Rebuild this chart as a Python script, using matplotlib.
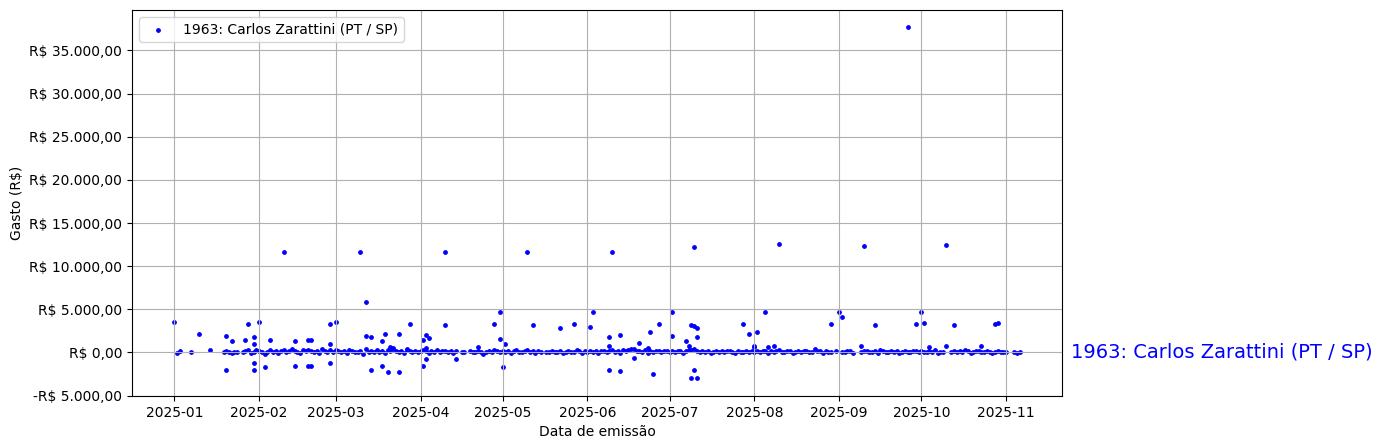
import numpy as np
import pandas as pd
import matplotlib
matplotlib.use("Agg")
import matplotlib.pyplot as plt
import matplotlib.dates as mdates
from matplotlib.ticker import FuncFormatter, MultipleLocator

label = "1963: Carlos Zarattini (PT / SP)"

# larger expenses / refunds (MM-DD, R$)
big_dates = [
    "01-01", "01-10", "01-20", "01-20", "01-22", "01-27", "01-28", "01-30", "01-30", "01-30", "01-30",
    "02-01", "02-03", "02-05", "02-10", "02-14", "02-14", "02-19", "02-19", "02-20", "02-20",
    "02-27", "02-27", "02-27", "03-01", "03-10", "03-12", "03-12", "03-14", "03-14", "03-18",
    "03-18", "03-19", "03-20", "03-21", "03-22", "03-24", "03-24", "03-27", "03-28",
    "04-02", "04-02", "04-03", "04-03", "04-03", "04-04", "04-10", "04-10", "04-14", "04-22",
    "04-28", "04-30", "04-30", "05-01", "05-02", "05-10", "05-12", "05-22", "05-27",
    "06-02", "06-03", "06-10", "06-09", "06-09", "06-09", "06-13", "06-13", "06-18", "06-20",
    "06-23", "06-24", "06-25", "06-27", "07-02", "07-02", "07-07", "07-08", "07-09", "07-10",
    "07-10", "07-11", "07-10", "07-11", "07-09", "07-11", "07-28", "07-30", "08-01", "08-01",
    "08-02", "08-05", "08-06", "08-08", "08-10", "08-29", "09-01", "09-02", "09-09", "09-10",
    "09-14", "09-26", "09-29", "10-01", "10-02", "10-04", "10-10", "10-10", "10-13", "10-23",
    "10-28", "10-29",
]
big_values = [
    3490, 2170, 1940, -1980, 1280, 1470, 3330, 1820, 1010, -1200, -1980,
    3490, -1670, 1470, 11590, 1360, -1550, 1430, -1550, 1430, -1550,
    3330, 1010, -1200, 3490, 11590, 5900, 1940, 1820, -1980, 1360,
    -1550, 2170, -2240, 660, 550, 2170, -2240, 430, 3330,
    1470, -1550, 2050, 550, -730, 1710, 11590, 3210, -730, 660,
    3330, 4730, 1590, -1670, 1010, 11590, 3210, 2870, 3330,
    2990, 4730, 11590, 1820, 780, -2010, 2050, -2130, -620, 1130,
    550, 2400, -2480, 3330, 4730, 1940, 1360, 780, 3210, 3100,
    12170, 2870, -1980, 1820, -3020, -3020, 3330, 2170, 780, 580,
    2400, 4730, 660, 780, 12520, 3330, 4730, 4140, 780, 12290,
    3210, 37670, 3330, 4730, 3450, 660, 12410, 780, 3210, 780,
    3330, 3450,
]

# small daily expenses (one list per month, None = no entry that day)
jan = [None, -100, 200, None, None, None, 0, None, None, None, None, None, None, 230, None,
       None, None, None, 0, 150, 80, -120, 60, 90, None, 40, 180, 260, -90, 70, 320]
feb = [150, 60, -150, 90, 310, 40, 120, -80, 200, 260, 70, 130, 420, 180, 60, -90, 240, 110,
       300, 150, 50, 200, -60, 380, 140, 70, 230, 100]
mar = [260, 120, 80, 190, -40, 300, 150, 90, 60, 210, -130, 350, 70, 180, 100, 240, 60, 150,
       -90, 280, 120, 400, 200, 80, 150, -60, 230, 110, 90, 170, 50]
apr = [120, 300, 200, -90, 150, 60, 240, 80, 130, 110, 50, 180, -90, 140, None, 100, 60, None,
       120, 70, 90, 200, 60, -150, 80, 110, 40, 230, 130, 90]
may = [140, 60, 200, -90, 120, 310, 80, 50, 150, 260, 90, 120, -70, 180, 60, None, 100, 90,
       140, 50, 60, 210, -120, 80, 150, 60, 90, 300, 130, -70, 110]
jun = [90, 150, 60, 120, -80, 200, 130, 50, 110, 240, 70, 160, -90, 330, 140, 250, 400, 380,
       180, 120, 60, 300, -90, 150, 70, 180, 110, 60, 210, 130]
jul = [80, 140, 60, 200, 120, -90, 150, 330, 280, 400, 110, 70, 130, 60, 190, -90, 50, 120,
       80, 150, 60, 210, 130, 90, -60, 140, 100, 80, 170, 60, 120]
aug = [90, 150, 60, 130, 200, -80, 110, 60, 150, 240, 90, 70, 180, 120, -60, 90, 140, 80,
       200, 110, 60, 90, 430, 150, 120, -80, 140, 60, 100, None, 130]
sep = [None, 60, 90, 150, 120, -60, None, None, 100, 150, 200, 90, 60, 130, -80, 240, 110,
       60, 90, 150, 70, 120, -60, 90, 140, 80, 60, 110, 150, 90]
oct_ = [120, 80, 60, 150, 90, 300, -110, 60, 90, None, None, 60, 150, 90, 200, 80, 240, 130,
        -60, 90, 150, 110, 60, 90, 130, 70, -60, 90, 150, 60, 80]
nov = [60, None, None, 50, -30, 40]

months = [jan, feb, mar, apr, may, jun, jul, aug, sep, oct_, nov]

small_dates, small_values = [], []
for m, vals in enumerate(months, start=1):
    for d, v in enumerate(vals, start=1):
        if v is not None:
            small_dates.append(pd.Timestamp(2025, m, d))
            small_values.append(v)

dates = [pd.Timestamp("2025-" + s) for s in big_dates] + small_dates
values = big_values + small_values
df = pd.DataFrame({"data": dates, "valor": values}).sort_values("data")


def brl(v, pos=None):
    s = f"{abs(v):,.2f}".replace(",", "X").replace(".", ",").replace("X", ".")
    return ("-R$ " if v < 0 else "R$ ") + s


fig, ax = plt.subplots(figsize=(13.82, 4.48), dpi=100)
fig.subplots_adjust(left=0.0955, right=0.7685, top=0.978, bottom=0.116)

ax.scatter(df["data"], df["valor"], s=6, color="blue", label=label)

last = df.iloc[-1]
ax.text(1.01, last["valor"], label, color="blue", fontsize=14, va="center",
        transform=ax.get_yaxis_transform())

ax.yaxis.set_major_locator(MultipleLocator(5000))
ax.yaxis.set_major_formatter(FuncFormatter(brl))
ax.xaxis.set_major_locator(mdates.MonthLocator())
ax.xaxis.set_major_formatter(mdates.DateFormatter("%Y-%m"))

ax.set_xlabel("Data de emissão")
ax.set_ylabel("Gasto (R$)")
ax.grid(True)
ax.legend(loc="upper left")

fig.savefig("out.png")
